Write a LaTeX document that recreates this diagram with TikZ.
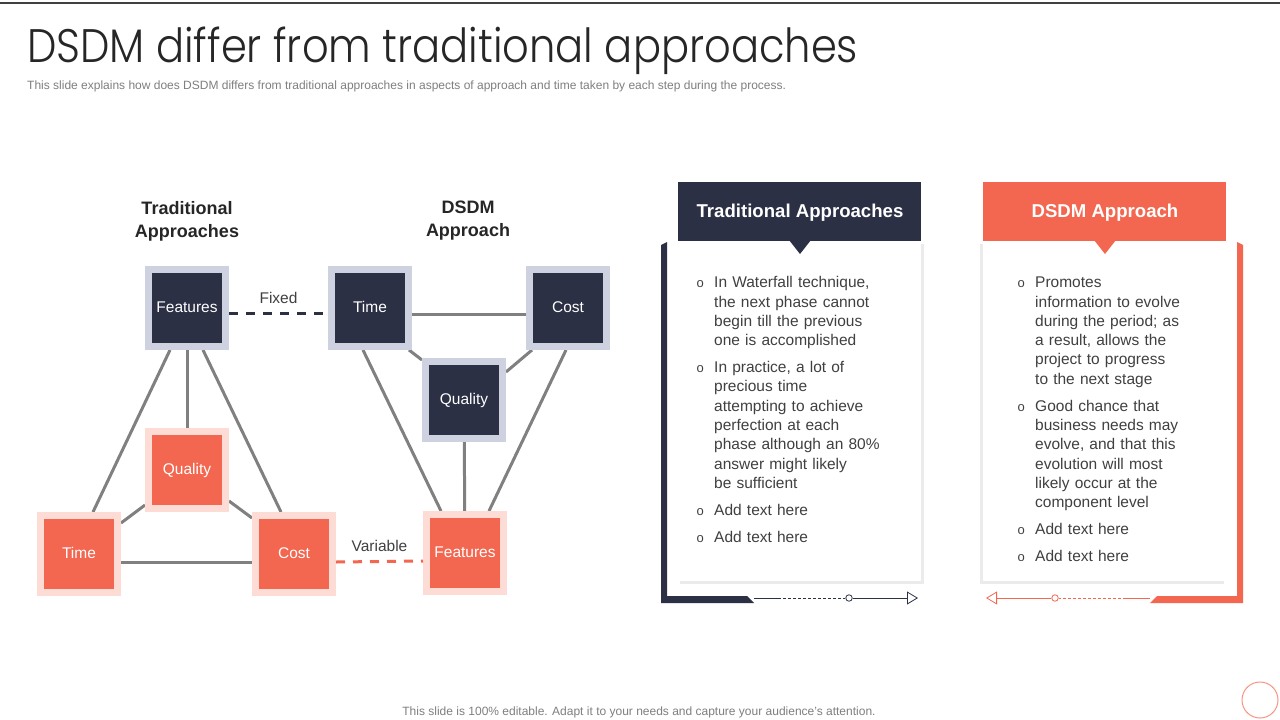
\documentclass[tikz,border=0pt]{standalone}
\usepackage{fontspec}
\usepackage{graphicx}
\setmainfont{Liberation Sans}
\IfFontExistsTF{Poppins Light}{\newfontfamily\titlefont{Poppins Light}}{\newfontfamily\titlefont{Poppins}}
\usetikzlibrary{shapes,arrows.meta,backgrounds}

\definecolor{navy}{HTML}{2B3044}
\definecolor{navyrim}{HTML}{CDD1E0}
\definecolor{coral}{HTML}{F3664F}
\definecolor{coralrim}{HTML}{FDDCD5}
\definecolor{linkgray}{HTML}{808080}
\definecolor{bodygray}{HTML}{404040}
\definecolor{notegray}{HTML}{7F7F7F}
\definecolor{cardshade}{HTML}{EBEBEB}

\newcommand{\pointitem}[1]{\par\hangindent=17.5pt\hangafter=1\noindent\makebox[17.5pt][l]{\strut\fontsize{13}{13}\selectfont o}#1}

\tikzset{
  fixedbox/.style={draw=navyrim, fill=navy, line width=7pt, minimum size=77pt, inner sep=0pt,
    text=white, text height=11pt, text depth=3pt, font=\fontsize{15.5}{18}\selectfont},
  varbox/.style={fixedbox, draw=coralrim, fill=coral},
  link/.style={draw=linkgray, line width=3pt},
  split/.style={line width=3pt, dash pattern=on 9pt off 8pt},
  heading/.style={align=center, font=\bfseries\fontsize{18}{23}\selectfont, text=black!85},
  cardhead/.style={text=white, font=\bfseries\fontsize{18.6}{20}\selectfont},
  points/.style={anchor=north west, inner sep=0pt, text width=220pt, text=bodygray,
    font=\fontsize{15.5}{19.3}\selectfont},
  ringdot/.style={circle, draw, fill=white, line width=0.8pt, minimum size=6.5pt, inner sep=0pt},
  trail/.style={line width=0.8pt},
}

\begin{document}
\begin{tikzpicture}[x=1pt,y=-1pt]
\useasboundingbox (0,0) rectangle (1280,720);
\draw[black!75, line width=1.2pt] (0,3) -- (1280,3);

% title
\node[anchor=base west, inner sep=0pt, font=\titlefont\fontsize{47}{50}\selectfont, text=black!85] (title) at (27,63) {\resizebox{831pt}{\height}{DSDM differ from traditional approaches}};
\node[anchor=base west, inner sep=0pt, font=\fontsize{12}{14}\selectfont, text=notegray] (subtitle) at (27,89.5) {This slide explains how does DSDM differs from traditional approaches in aspects of approach and time taken by each step during the process.};

% triangles
\node[heading] (tradhead) at (187,221) {Traditional\\Approaches};
\node[heading] (dsdmhead) at (468,221) {DSDM\\Approach};

\node[fixedbox] (tf) at (187,308) {Features};
\node[varbox] (tq) at (187,470) {Quality};
\node[varbox] (tt) at (79,554) {Time};
\node[varbox] (tc) at (294,554) {Cost};

\node[fixedbox] (dt) at (370,308) {Time};
\node[fixedbox] (dc) at (568,308) {Cost};
\node[fixedbox] (dq) at (464,400) {Quality};
\node[varbox] (df) at (465,553) {Features};

\begin{scope}[on background layer]
  \fill[white] (0,0) rectangle (1280,720);
  \draw[link] ([xshift=-17pt]tf.south) -- ([xshift=14pt]tt.north);
  \draw[link] (tf) -- (tq);
  \draw[link] ([xshift=16pt]tf.south) -- ([xshift=-13pt]tc.north);
  \draw[link] ([yshift=7pt]tq.south west) -- ([yshift=-11pt]tt.north east);
  \draw[link] ([yshift=11pt]tq.south east) -- ([yshift=-6pt]tc.north west);
  \draw[link] ([yshift=-8pt]tt.east) -- ([yshift=-8pt]tc.west);
  \draw[link] ([yshift=-6pt]dt.east) -- ([yshift=-6pt]dc.west);
  \draw[link] ([xshift=-3pt]dt.south east) -- ([yshift=-2pt]dq.north west);
  \draw[link] ([xshift=6pt]dc.south west) -- ([yshift=-14pt]dq.north east);
  \draw[link] ([xshift=-7pt]dt.south) -- ([xshift=-24pt]df.north);
  \draw[link] (dq) -- (df);
  \draw[link] ([xshift=-2pt]dc.south) -- ([xshift=24pt]df.north);
\end{scope}

\draw[split, navy] ([yshift=-5pt]tf.east) -- node[midway, yshift=15pt, text=bodygray, font=\fontsize{15.5}{18}\selectfont] (fixedlbl) {Fixed} ([yshift=-5pt]dt.west);
\draw[split, coral] ([yshift=-8pt]tc.east) -- node[midway, yshift=16pt, text=bodygray, font=\fontsize{15.5}{18}\selectfont] (varlbl) {Variable} ([yshift=-8pt]df.west);

% traditional card
\fill[navy] (661,245) -- (667,242) -- (667,596) -- (747,596) -- (754,603) -- (661,603) -- cycle;
\fill[cardshade] (680,244) rectangle (924,584);
\fill[white] (678,241) rectangle (921,581);
\fill[navy] (678,182) rectangle (921,241);
\fill[navy] (789,240) -- (811,240) -- (800,254) -- cycle;
\node[cardhead] (tradtitle) at (800,212.5) {Traditional Approaches};
\node[points] (tradtext) at (696.5,260.5) {\setlength{\parskip}{7.7pt}%
  \pointitem{In Waterfall technique,\newline the next phase cannot\newline begin till the previous\newline one is accomplished}
  \pointitem{In practice, a lot of\newline precious time\newline attempting to achieve\newline perfection at each\newline phase although an 80\%\newline answer might likely\newline be sufficient}
  \pointitem{Add text here}
  \pointitem{Add text here}};
\coordinate (lbar) at (754,598);
\coordinate (ldash) at (778,598);
\node[ringdot, draw=navy] (ldot) at (849,598) {};
\coordinate (ltip) at (918,598);
\draw[trail, navy] (lbar) -- (ldash);
\draw[trail, navy, dash pattern=on 3pt off 2pt] (ldash) -- (ldot);
\draw[trail, navy, -{Triangle[open, length=11pt, width=13pt]}] (ldot) -- (ltip);

% dsdm card
\fill[coral] (1243,245) -- (1237,242) -- (1237,596) -- (1157,596) -- (1150,603) -- (1243,603) -- cycle;
\fill[cardshade] (980,244) rectangle (1224,584);
\fill[white] (983,241) rectangle (1226,581);
\fill[coral] (983,182) rectangle (1226,241);
\fill[coral] (1094,240) -- (1116,240) -- (1105,254) -- cycle;
\node[cardhead] (dsdmtitle) at (1105,212.5) {DSDM Approach};
\node[points] (dsdmtext) at (1017.5,260.5) {\setlength{\parskip}{7.7pt}%
  \pointitem{Promotes\newline information to evolve\newline during the period; as\newline a result, allows the\newline project to progress\newline to the next stage}
  \pointitem{Good chance that\newline business needs may\newline evolve, and that this\newline evolution will most\newline likely occur at the\newline component level}
  \pointitem{Add text here}
  \pointitem{Add text here}};
\coordinate (rbar) at (1150,598);
\coordinate (rdash) at (1126,598);
\node[ringdot, draw=coral] (rdot) at (1055,598) {};
\coordinate (rtip) at (986,598);
\draw[trail, coral] (rbar) -- (rdash);
\draw[trail, coral, dash pattern=on 3pt off 2pt] (rdash) -- (rdot);
\draw[trail, coral, -{Triangle[open, length=11pt, width=13pt]}] (rdot) -- (rtip);

% footer
\node[anchor=base, inner sep=0pt, font=\fontsize{12}{14}\selectfont, text=notegray] (footer) at (639,715) {This slide is 100\% editable. Adapt it to your needs and capture your audience's attention.};
\draw[coral!70, line width=1pt] (1260,700) circle (18);
\end{tikzpicture}
\end{document}
